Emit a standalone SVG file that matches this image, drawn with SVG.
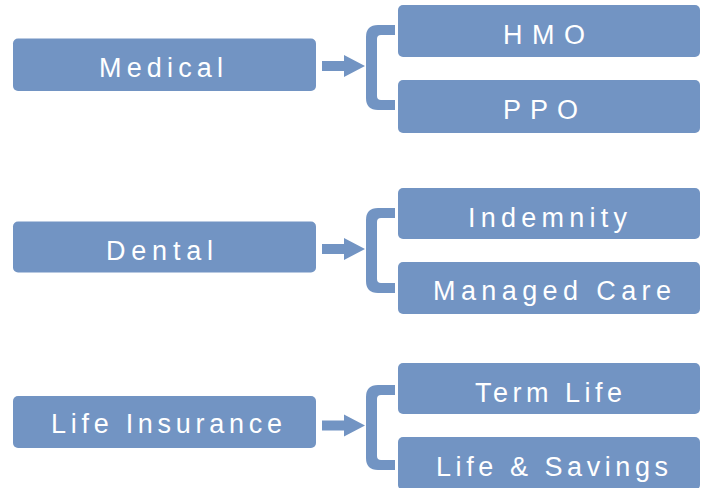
<svg xmlns="http://www.w3.org/2000/svg" width="706" height="488" viewBox="0 0 706 488">
  <defs>
    <style>
      .box { fill: #7294C3; }
      .conn { fill: #7294C3; }
      .lbl { fill: #FFFFFF; font-family: "Liberation Sans", Arial, sans-serif; font-size: 27px; }
    </style>
    <!-- right-pointing block arrow, centred on y=0 -->
    <path id="arrow" d="M322,-5 H344 V-11 L365,0 L344,11 V5 H322 Z"/>
    <!-- square bracket joining a category to its two options; top arm at y=0 -->
    <path id="bracket" d="M395,0 H378 Q366,0 366,12 V73 Q366,85 378,85 H395 V75 H381 Q377,75 377,71 V14 Q377,10 381,10 H395 Z"/>
  </defs>

  <!-- connectors: arrow + bracket for each category -->
  <g id="connectors" class="conn">
    <use href="#arrow" y="66"/>
    <use href="#bracket" y="25"/>
    <use href="#arrow" y="249"/>
    <use href="#bracket" y="208"/>
    <use href="#arrow" y="425.5"/>
    <use href="#bracket" y="385"/>
  </g>

  <!-- Medical -->
  <g id="medical">
    <rect class="box" x="13" y="38.5" width="303" height="52.5" rx="5"/>
    <text class="lbl" x="99" y="77" textLength="124" lengthAdjust="spacing">Medical</text>
  </g>
  <g id="hmo">
    <rect class="box" x="398" y="5" width="302" height="52" rx="5"/>
    <text class="lbl" x="503" y="44" textLength="82" lengthAdjust="spacing">HMO</text>
  </g>
  <g id="ppo">
    <rect class="box" x="398" y="80" width="302" height="53" rx="5"/>
    <text class="lbl" x="503" y="119" textLength="75" lengthAdjust="spacing">PPO</text>
  </g>

  <!-- Dental -->
  <g id="dental">
    <rect class="box" x="13" y="221.5" width="303" height="51" rx="5"/>
    <text class="lbl" x="106" y="259.5" textLength="107" lengthAdjust="spacing">Dental</text>
  </g>
  <g id="indemnity">
    <rect class="box" x="398" y="188" width="302" height="51" rx="5"/>
    <text class="lbl" x="468" y="227" textLength="159" lengthAdjust="spacing">Indemnity</text>
  </g>
  <g id="managed-care">
    <rect class="box" x="398" y="262" width="302" height="52" rx="5"/>
    <text class="lbl" x="433" y="300" textLength="238" lengthAdjust="spacing">Managed Care</text>
  </g>

  <!-- Life Insurance -->
  <g id="life-insurance">
    <rect class="box" x="13" y="396" width="303" height="52" rx="5"/>
    <text class="lbl" x="51" y="433" textLength="231" lengthAdjust="spacing">Life Insurance</text>
  </g>
  <g id="term-life">
    <rect class="box" x="398" y="363" width="302" height="51" rx="5"/>
    <text class="lbl" x="475" y="402" textLength="147" lengthAdjust="spacing">Term Life</text>
  </g>
  <g id="life-savings">
    <rect class="box" x="398" y="437" width="302" height="53" rx="5"/>
    <text class="lbl" x="436" y="476" textLength="232" lengthAdjust="spacing">Life &amp; Savings</text>
  </g>
</svg>
